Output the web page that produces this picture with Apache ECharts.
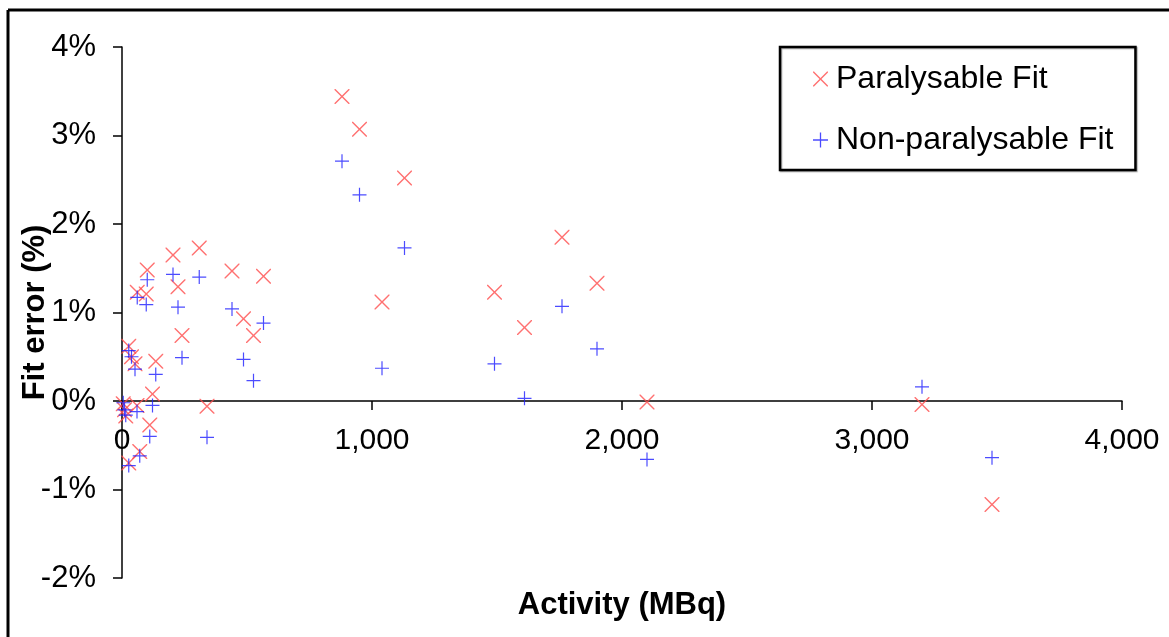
<!DOCTYPE html>
<html>
<head>
<meta charset="utf-8">
<script src="https://cdn.jsdelivr.net/npm/echarts@6/dist/echarts.min.js"></script>
<style>
  html, body { margin: 0; padding: 0; background: #fff; }
  #chart { width: 1169px; height: 637px; }
</style>
</head>
<body>
<div id="chart"></div>
<script>
// Activity of each measurement (MBq)
const activity = [5, 10, 15, 27, 27, 38, 52, 60, 61, 71, 97, 101, 111, 122, 135, 204, 224, 240, 309, 340, 440, 486, 526, 566, 880, 950, 1040, 1130, 1490, 1610, 1760, 1900, 2100, 3200, 3480];
// Fit error (%) of the paralysable dead-time model
const paralysable = [-0.03, -0.10, -0.17, -0.70, 0.62, 0.50, 0.42, -0.05, 1.23, -0.57, 1.21, 1.48, -0.27, 0.08, 0.45, 1.65, 1.29, 0.74, 1.73, -0.06, 1.47, 0.93, 0.74, 1.41, 3.44, 3.07, 1.12, 2.52, 1.23, 0.83, 1.85, 1.33, -0.01, -0.04, -1.17];
// Fit error (%) of the non-paralysable dead-time model
const nonParalysable = [-0.02, -0.10, -0.16, -0.73, 0.57, 0.50, 0.36, -0.12, 1.17, -0.62, 1.09, 1.37, -0.40, -0.05, 0.30, 1.43, 1.06, 0.49, 1.40, -0.41, 1.04, 0.47, 0.23, 0.88, 2.71, 2.33, 0.37, 1.73, 0.42, 0.03, 1.07, 0.59, -0.66, 0.16, -0.64];
const yTicks = [-2, -1, 0, 1, 2, 3, 4];
const xTicks = [0, 1000, 2000, 3000, 4000];

const FONT = '"Liberation Sans", Arial, sans-serif';
// thin "x" and "+" outlines as filled paths
const CROSS = 'path://M0,0L1,0L7.5,6.5L14,0L15,0L15,1L8.5,7.5L15,14L15,15L14,15L7.5,8.5L1,15L0,15L0,14L6.5,7.5L0,1Z';
const PLUS = 'path://M6.4,0H7.6V6.4H14V7.6H7.6V14H6.4V7.6H0V6.4H6.4Z';
const RED = '#ff4d4d';
const BLUE = '#1e1eff';

const GRID = { left: 122, right: 47, top: 47, bottom: 59 };
const plotHeight = 637 - GRID.top - GRID.bottom;
const yMin = yTicks[0], yMax = yTicks[yTicks.length - 1];
// lift the horizontal axis from the plot bottom up to the 0% level
const zeroLift = plotHeight * (0 - yMin) / (yMax - yMin);

const pairs = (ys) => activity.map((a, i) => [a, ys[i]]);
const fmtThousands = (v) => String(v).replace(/\B(?=(\d{3})+(?!\d))/g, ',');

const chart = echarts.init(document.getElementById('chart'), null, { renderer: 'canvas' });
chart.setOption({
  animation: false,
  backgroundColor: '#fff',
  grid: Object.assign({ containLabel: false, outerBoundsMode: 'none' }, GRID),
  legend: {
    orient: 'vertical',
    left: 780, top: 47,
    padding: [16, 22, 14, 33],
    itemWidth: 15, itemHeight: 15,
    itemGap: 29,
    borderColor: '#000', borderWidth: 2.5,
    backgroundColor: '#fff',
    shadowColor: 'rgba(0,0,0,0.35)', shadowOffsetX: 1, shadowOffsetY: 1, shadowBlur: 1,
    textStyle: { fontFamily: FONT, fontSize: 32, color: '#000', lineHeight: 30, padding: [0, 0, 0, 3] },
    data: [
      { name: 'Paralysable Fit', icon: CROSS, itemStyle: { color: RED } },
      { name: 'Non-paralysable Fit', icon: PLUS, itemStyle: { color: BLUE } }
    ]
  },
  xAxis: {
    type: 'value', min: xTicks[0], max: xTicks[xTicks.length - 1], interval: 1000,
    position: 'bottom', offset: -zeroLift,
    axisLine: { onZero: false, lineStyle: { color: '#000', width: 1.5 } },
    axisTick: { show: true, length: 9, inside: false, lineStyle: { color: '#000', width: 1.5 } },
    axisLabel: { fontFamily: FONT, fontSize: 30, color: '#000', margin: 25, formatter: fmtThousands },
    splitLine: { show: false },
    name: 'Activity (MBq)', nameLocation: 'middle', nameGap: 189, nameMoveOverlap: false,
    nameTextStyle: { fontFamily: FONT, fontSize: 31, fontWeight: 'bold', color: '#000' }
  },
  yAxis: {
    type: 'value', min: yMin, max: yMax, interval: 1,
    axisLine: { onZero: false, lineStyle: { color: '#000', width: 1.5 } },
    axisTick: { show: true, length: 9, lineStyle: { color: '#000', width: 1.5 } },
    axisLabel: { fontFamily: FONT, fontSize: 31, color: '#000', margin: 26, formatter: (v) => v + '%' },
    splitLine: { show: false },
    name: 'Fit error (%)', nameLocation: 'middle', nameGap: 71, nameRotate: 90, nameMoveOverlap: false,
    nameTextStyle: { fontFamily: FONT, fontSize: 31, fontWeight: 'bold', color: '#000' }
  },
  series: [
    {
      name: 'Paralysable Fit', type: 'scatter', symbol: CROSS, symbolSize: 15,
      itemStyle: { color: RED }, data: pairs(paralysable), z: 3
    },
    {
      name: 'Non-paralysable Fit', type: 'scatter', symbol: PLUS, symbolSize: 14,
      itemStyle: { color: BLUE }, data: pairs(nonParalysable), z: 4
    }
  ],
  graphic: [
    // frame edges on the left and top
    { type: 'line', shape: { x1: 8, y1: 10, x2: 8, y2: 637 }, style: { stroke: '#000', lineWidth: 3 } },
    { type: 'line', shape: { x1: 8, y1: 10, x2: 1169, y2: 10 }, style: { stroke: '#000', lineWidth: 3 } }
  ]
});
</script>
</body>
</html>
